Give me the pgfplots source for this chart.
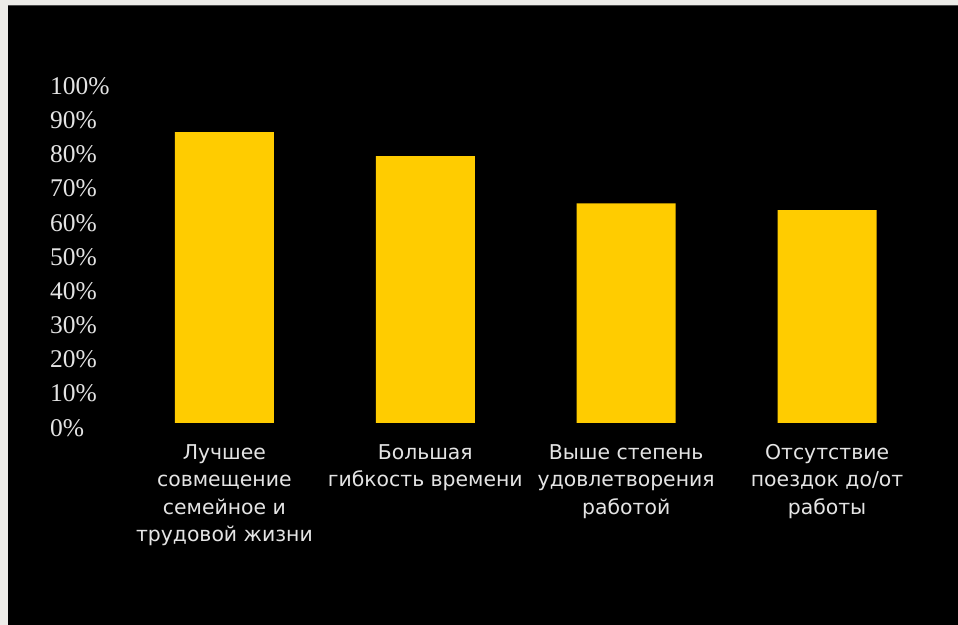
\documentclass[border=0pt]{standalone}
\usepackage{pgfplots}
\pgfplotsset{compat=1.18}
\usepackage{fontspec}
\setmainfont{Liberation Serif}
\newfontfamily\labelfont{DejaVu Sans}
\definecolor{bargold}{HTML}{FFCC00}
\definecolor{textgrey}{HTML}{E4E4E4}
\definecolor{framegrey}{HTML}{EDECE8}

\begin{document}
\begin{tikzpicture}[x=1pt,y=1pt]
% page background and dark panel
\fill[framegrey] (0,0) rectangle (958,-625);
\fill[black] (8,-5) rectangle (958,-625);
\draw[gray!60!black, line width=1pt] (8,-5.5) -- (958,-5.5);
\begin{axis}[
    at={(124pt,-423pt)}, anchor=south west,
    scale only axis,
    width=804pt, height=342pt,
    xmin=-0.5, xmax=3.5,
    ymin=0, ymax=100,
    ybar, bar width=99pt,
    axis line style={draw=none},
    major tick length=0pt,
    tick style={draw=none},
    /pgf/number format/assume math mode=true,
    ytick={0,10,...,100},
    yticklabel={\pgfmathprintnumber{\tick}\%},
    yticklabel style={anchor=west, xshift=-74pt, yshift=-5pt, inner sep=0pt,
        font=\fontsize{25.5}{25.5}\selectfont, text=textgrey},
    xtick={0,1,2,3},
    xticklabels={{Лучшее\\совмещение\\семейное и\\трудовой жизни},
                 {Большая\\гибкость времени},
                 {Выше степень\\удовлетворения\\работой},
                 {Отсутствие\\поездок до/от\\работы}},
    xticklabel style={align=center, anchor=north, yshift=-18pt,
        font=\labelfont\fontsize{20.4}{27.5}\selectfont, text=textgrey},
]
\addplot[fill=bargold, draw=none] coordinates {(0,85) (1,78) (2,64.2) (3,62.2)};
\end{axis}
\end{tikzpicture}
\end{document}
